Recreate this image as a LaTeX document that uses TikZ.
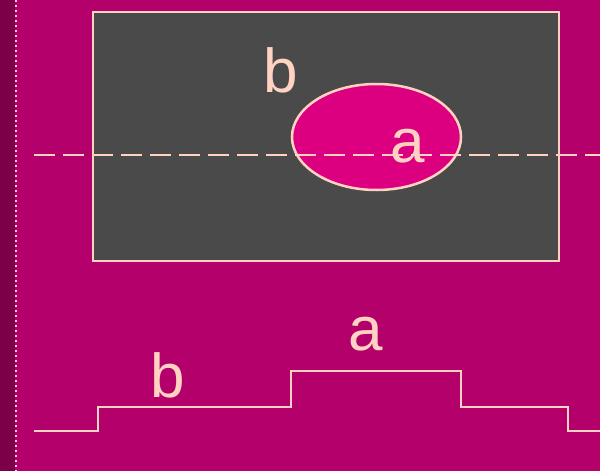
\documentclass[tikz,border=0pt]{standalone}
\usepackage{fontspec}
\setmainfont{Liberation Sans}
\usetikzlibrary{shapes.geometric}
\definecolor{bgmag}{HTML}{B3006B}
\definecolor{darkstrip}{HTML}{7B0047}
\definecolor{boxgray}{HTML}{4A4A4A}
\definecolor{ellmag}{HTML}{DC0080}
\definecolor{peach}{HTML}{FFD2C2}
\definecolor{dotpink}{HTML}{FFC8D6}
\tikzset{
  outline/.style={draw=peach, line width=2.5pt},
  lbl/.style={text=peach, anchor=base, inner sep=0pt, font=\fontsize{62}{62}\selectfont},
}
\begin{document}
\begin{tikzpicture}[x=1pt,y=-1pt]
\useasboundingbox (0,0) rectangle (600,471);
\fill[bgmag] (0,0) rectangle (600,471);
\fill[darkstrip] (0,0) rectangle (14.5,471);
\draw[dotpink, line width=2.6pt, dash pattern=on 2pt off 3pt] (16,0) -- (16,471);
% box
\node[outline, fill=boxgray, rectangle, minimum width=466pt, minimum height=249pt, inner sep=0pt] (box) at (326,136.5) {};
% ellipse
\node[outline, fill=ellmag, ellipse, minimum width=169pt, minimum height=106pt, inner sep=0pt] (ell) at (376.5,137) {};
% dashed line
\coordinate (dl) at (34,155);
\coordinate (dr) at (600,155);
\draw[peach, line width=2.5pt, dash pattern=on 21pt off 8pt] (dl) -- (dr);
% labels
\node[lbl] (lb1) at (281,92.5) {b};
\node[lbl] (la1) at (408,162) {a};
\node[lbl] (la2) at (366,350) {a};
\node[lbl] (lb2) at (168,397) {b};
% step line
\coordinate (s0) at (34,431);
\coordinate (s1) at (600,431);
\draw[peach, line width=2.5pt] (s0) -- (98,431) -- (98,407) -- (291,407) -- (291,371) -- (461,371) -- (461,407) -- (568,407) -- (568,431) -- (s1);
\end{tikzpicture}
\end{document}
